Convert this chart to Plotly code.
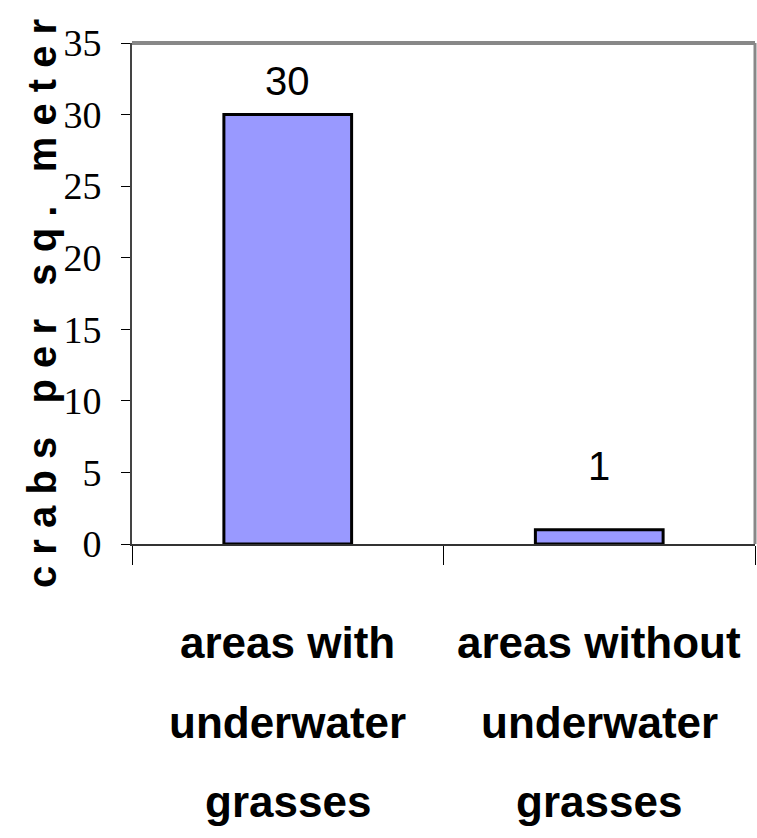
import plotly.graph_objects as go

categories = ["areas with underwater grasses", "areas without underwater grasses"]
crabs_per_sq_meter = [30, 1]
category_label_lines = [
    ["areas with", "underwater", "grasses"],
    ["areas without", "underwater", "grasses"],
]
y_tick_values = [0, 5, 10, 15, 20, 25, 30, 35]
y_title = "c r a b s   p e r   s q .   m e t e r"

W, H = 757, 838
ML, MR, MT, MB = 132, 2, 43, 294
plot_h = H - MT - MB
plot_w = W - ML - MR
zero_y = H - MB


def py(page_y):
    return (zero_y - page_y) / plot_h


fig = go.Figure()
fig.add_trace(go.Bar(
    x=categories,
    y=crabs_per_sq_meter,
    width=0.41,
    marker=dict(color="#9999FF", line=dict(color="black", width=3)),
    showlegend=False,
    hoverinfo="skip",
))

annotations = []
label_shifts = [10, 40]
for cat, val, ys in zip(categories, crabs_per_sq_meter, label_shifts):
    annotations.append(dict(
        x=cat, y=val, xref="x", yref="y", text=str(val), showarrow=False,
        yanchor="bottom", yshift=ys,
        font=dict(family="Liberation Sans", size=40, color="black"),
    ))

line_centers_px = [642, 722, 802]
for cat, lines in zip(categories, category_label_lines):
    for line, cy in zip(lines, line_centers_px):
        annotations.append(dict(
            x=cat, xref="x", y=py(cy), yref="paper",
            text=f"<b>{line}</b>", showarrow=False, yanchor="middle",
            font=dict(family="Liberation Sans", size=44, color="black"),
        ))

annotations.append(dict(
    x=(42 - ML) / plot_w, xref="paper", y=py(304), yref="paper",
    text=f"<b>{y_title}</b>", textangle=-90, showarrow=False,
    xanchor="center", yanchor="middle",
    font=dict(family="Liberation Sans", size=40, color="black"),
))

fig.update_layout(
    width=W, height=H,
    margin=dict(l=ML, r=MR, t=MT, b=MB),
    paper_bgcolor="white", plot_bgcolor="white",
    annotations=annotations,
    shapes=[
        dict(type="line", xref="paper", yref="paper", x0=0, x1=1, y0=1, y1=1,
             line=dict(color="#888888", width=4)),
        dict(type="line", xref="paper", yref="paper", x0=1, x1=1, y0=0, y1=1,
             line=dict(color="#888888", width=3)),
    ],
)
fig.update_xaxes(
    type="category", showticklabels=False, tickson="boundaries",
    ticks="outside", ticklen=19, tickcolor="black", tickwidth=1,
    showline=True, linecolor="#333333", linewidth=2, showgrid=False,
)
fig.update_yaxes(
    range=[0, 35], tickvals=y_tick_values, ticks="outside", ticklen=9,
    tickcolor="black", tickwidth=1, showline=True, linecolor="#444444",
    linewidth=2, showgrid=False, zeroline=False,
    tickfont=dict(family="Liberation Serif", size=38, color="black"),
    ticklabelstandoff=12,
)

fig.write_html(
    "out.html",
    config={"displayModeBar": False},
    post_script="document.body.style.margin='0';document.body.style.overflow='hidden';",
)
